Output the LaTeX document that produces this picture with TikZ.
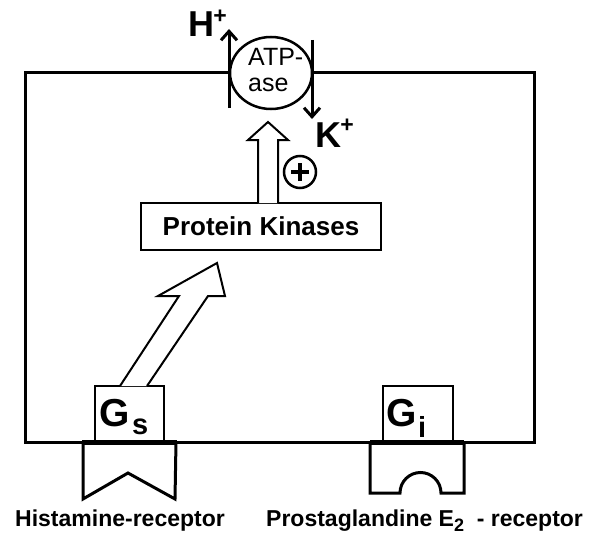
\documentclass[tikz,border=0pt]{standalone}
\usepackage{fontspec}
\setmainfont{Liberation Sans}
\usetikzlibrary{arrows.meta,shapes.geometric}
\begin{document}
\begin{tikzpicture}[x=1pt,y=-1pt,
  cellline/.style={line width=3pt},
  boxline/.style={line width=2pt},
  blockarrow/.style={draw, line width=2pt, fill=white, line join=miter},
  ionarrow/.style={line width=3pt, -{Straight Barb[length=9pt,width=16pt,line width=3pt]}},
  bigtxt/.style={font=\bfseries\fontsize{36}{36}\selectfont, inner sep=0pt, anchor=base west},
  gtxt/.style={font=\bfseries\fontsize{39}{39}\selectfont, inner sep=0pt, anchor=base west},
  subtxt/.style={font=\bfseries\fontsize{29}{29}\selectfont, inner sep=0pt, anchor=base west},
  suptxt/.style={font=\bfseries\fontsize{23}{23}\selectfont, inner sep=0pt},
  atptxt/.style={font=\fontsize{25}{25}\selectfont, inner sep=0pt, anchor=base west},
  lbl/.style={font=\bfseries\fontsize{23}{23}\selectfont, inner sep=0pt, anchor=base},
]
\useasboundingbox (0,0) rectangle (592,535);
% cell outline (interrupted by the pump)
\draw[cellline, line join=miter] (229,73) -- (25,73) -- (25,442) -- (534,442) -- (534,73) -- (313,73);
% ATPase pump
\node[draw, ellipse, line width=2.5pt, minimum width=82pt, minimum height=72pt, inner sep=0pt] (atp) at (271,73) {};
\node[atptxt] (atpa) at (248,66) {ATP-};
\node[atptxt] (atpb) at (248,92) {ase};
% ion arrows
\coordinate (hbot) at (229,108);
\coordinate (htop) at (229,29);
\coordinate (ktop) at (312,40);
\coordinate (kbot) at (312,119);
\draw[ionarrow] (hbot) -- (htop);
\draw[ionarrow] (ktop) -- (kbot);
\node[bigtxt] (hion) at (188,37) {H};
\node[suptxt] (hplus) at (220,17) {+};
\node[bigtxt] (kion) at (315,147) {K};
\node[suptxt] (kplus) at (347,126) {+};
% protein kinases
\node[draw, boxline, minimum width=240pt, minimum height=47pt, inner sep=0pt,
      font=\bfseries\fontsize{26}{26}\selectfont] (pk) at (261,226.5) {Protein Kinases};
% block arrow up to pump
\draw[blockarrow] (258,203) -- (258,140) -- (248,140) -- (268,122) -- (288,140) -- (278,140) -- (278,203);
% plus circle
\node[draw, circle, line width=2.5pt, minimum size=32pt, inner sep=0pt] (pluscirc) at (300,172) {};
\draw[line width=4pt] ([xshift=-9pt]pluscirc.center) -- ([xshift=9pt]pluscirc.center);
\draw[line width=4pt] ([yshift=-9pt]pluscirc.center) -- ([yshift=9pt]pluscirc.center);
% G proteins
\node[draw, boxline, minimum width=69pt, minimum height=56pt, inner sep=0pt] (gs) at (129.5,414) {};
\node[gtxt] (gstxt) at (99,426) {G};
\node[subtxt] (gssub) at (132,434) {s};
\node[draw, boxline, minimum width=70pt, minimum height=56pt, inner sep=0pt] (gi) at (418,414) {};
\node[gtxt] (gitxt) at (386,426) {G};
\node[subtxt] (gisub) at (418,437) {i};
% diagonal block arrow from Gs to kinases
\draw[blockarrow] (120,386) -- (179,296) -- (158,296) -- (217,263) -- (225,296) -- (208,296) -- (147,386);
% membrane thickening under receptors
\draw[line width=5pt] (82,442) -- (177,442);
\draw[line width=5pt] (370,442) -- (464,442);
% receptors
\draw[cellline, line join=miter] (83,442) -- (83,499) -- (128,473) -- (175,499) -- (176,442);
\draw[cellline, line join=miter] (370,442) -- (370,493) -- (400,493) arc[start angle=180, end angle=0, radius=20.5pt] -- (464,493) -- (464,442);
% labels
\node[lbl] (hrec) at (120,526) {Histamine-receptor};
\node[lbl, anchor=base west] (prec) at (266,526) {Prostaglandine E\raisebox{-5pt}{\fontsize{18}{18}\selectfont 2}\ \ - receptor};
\end{tikzpicture}
\end{document}
